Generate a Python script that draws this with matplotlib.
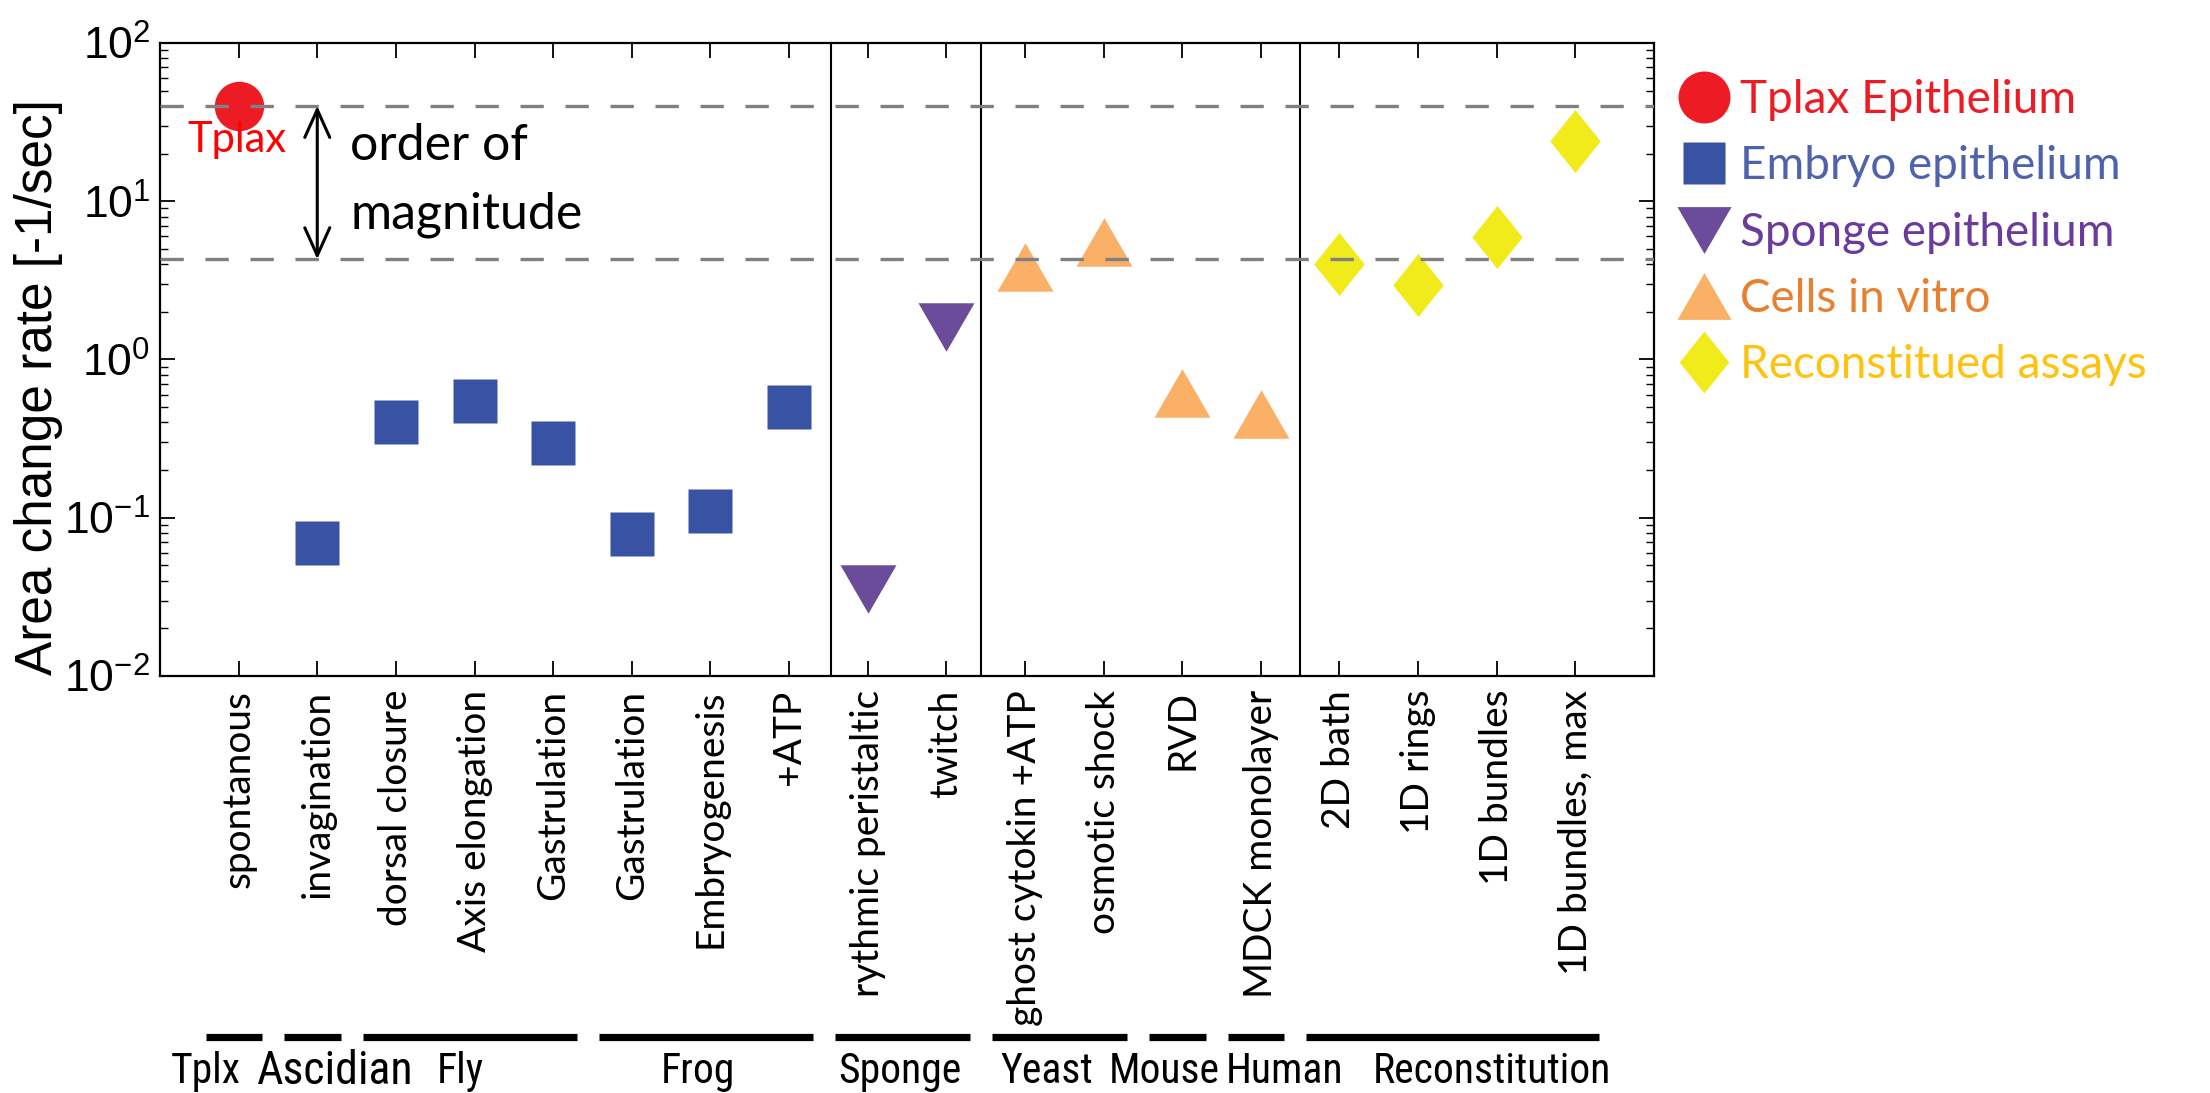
import numpy as np
import matplotlib.pyplot as plt
from matplotlib.lines import Line2D
import matplotlib.transforms as mtransforms

plt.rcParams['font.family'] = 'Liberation Sans'
plt.rcParams['mathtext.fontset'] = 'custom'
plt.rcParams['mathtext.rm'] = 'Roboto Condensed'
plt.rcParams['mathtext.it'] = 'Roboto Condensed'
plt.rcParams['mathtext.default'] = 'rm'

# measured rates per condition, grouped by sample type
conditions = ["spontanous", "invagination", "dorsal closure", "Axis elongation",
              "Gastrulation", "Gastrulation", "Embryogenesis", "+ATP",
              "rythmic peristaltic", "twitch",
              "ghost cytokin +ATP", "osmotic shock", "RVD", "MDCK monolayer",
              "2D bath", "1D rings", "1D bundles", "1D bundles, max"]
tplax_rate = [40]
embryo_rate = [0.069, 0.405, 0.547, 0.298, 0.079, 0.111, 0.50]
sponge_rate = [0.0355, 1.6]
cells_rate = [3.83, 5.55, 0.61, 0.45]
recon_rate = [4.02, 2.97, 5.95, 24]

organisms = ["Tplx", "Ascidian", "Fly", "Frog", "Sponge", "Yeast", "Mouse", "Human", "Reconstitution"]
organism_first = [1, 2, 3, 6, 9, 11, 13, 14, 15]
organism_last = [1, 2, 5, 8, 10, 12, 13, 14, 18]
organism_label_x = [0.58, 2.23, 3.82, 6.84, 9.41, 11.28, 12.77, 14.30, 16.94]

band_top = 40
band_bottom = 4.3
separators = [8.53, 10.44, 14.5]

c_red = '#ED1C24'
c_blue = '#3953A4'
c_purple = '#6B4C9A'
c_orange = '#FBB068'
c_yellow = '#F2EB1C'

tri_up = [(-1, -0.866), (1, -0.866), (0, 0.866), (-1, -0.866)]
tri_down = [(-1, 0.866), (1, 0.866), (0, -0.866), (-1, 0.866)]
diamond = [(0, 1), (0.8, 0), (0, -1), (-0.8, 0), (0, 1)]

fig = plt.figure(figsize=(22.1, 10.93), dpi=100)
ax = fig.add_axes([0.0724, 0.3815, 0.6760, 0.5792])

x = np.arange(1, len(conditions) + 1)
n1 = len(tplax_rate)
n2 = n1 + len(embryo_rate)
n3 = n2 + len(sponge_rate)
n4 = n3 + len(cells_rate)

ax.plot(x[:n1], tplax_rate, ls='none', marker='o', ms=35.6, mfc=c_red, mec='none', zorder=3)
ax.plot(x[n1:n2], embryo_rate, ls='none', marker='s', ms=32, mfc=c_blue, mec='none', zorder=3)
ax.plot(x[n2:n3], sponge_rate, ls='none', marker=tri_down, ms=40.3, mfc=c_purple, mec='none', zorder=3)
ax.plot(x[n3:n4], cells_rate, ls='none', marker=tri_up, ms=40.3, mfc=c_orange, mec='none', zorder=3)
ax.plot(x[n4:], recon_rate, ls='none', marker=diamond, ms=45.4, mfc=c_yellow, mec='none', zorder=3)

# one-decade band, drawn over the markers
for yv in (band_top, band_bottom):
    ax.axhline(yv, color='#808080', lw=2.4, ls=(0, (7, 6.5)), zorder=4)
for xv in separators:
    ax.axvline(xv, color='black', lw=1.5, zorder=2)

ax.annotate('', xy=(2, band_bottom), xytext=(2, band_top),
            arrowprops=dict(arrowstyle='<->,head_length=1.0,head_width=0.45',
                            lw=2.2, color='black', mutation_scale=20,
                            shrinkA=0, shrinkB=0), zorder=5)
ax.text(2.42, 22.3, 'order of', family='Lato', fontsize=36, va='center', ha='left')
ax.text(2.42, 8.17, 'magnitude', family='Lato', fontsize=36, va='center', ha='left')
ax.text(0.98, 24.5, 'Tplax', family='Lato', fontsize=30, color='#FF0000', va='center', ha='center')

ax.set_yscale('log')
ax.set_ylim(1e-2, 1e2)
ax.set_xlim(0, 19)
ax.set_xticks(x)
ax.set_xticklabels(conditions, rotation=90, family='Lato', fontsize=28)
ax.tick_params(axis='x', which='major', direction='in', length=11, width=1.3,
               top=True, pad=10)
ax.tick_params(axis='y', which='major', direction='in', length=11, width=1.3,
               right=True, labelsize=32, pad=7)
ax.tick_params(axis='y', which='minor', direction='in', length=5.5, width=1.0, right=True)
for s in ax.spines.values():
    s.set_linewidth(1.6)
ax.set_ylabel('Area change rate [-1/sec]', fontsize=37)
ax.yaxis.set_label_coords(-0.065, 0.456)

# organism bars and names underneath the condition labels
trans = mtransforms.blended_transform_factory(ax.transData, ax.transAxes)
for name, first, last, lx in zip(organisms, organism_first, organism_last, organism_label_x):
    ax.plot([first - 0.42, last + 0.3], [-0.5695, -0.5695], color='black', lw=5.2,
            solid_capstyle='butt', transform=trans, clip_on=False)
    ax.text(lx, -0.624, name, transform=trans, ha='center', va='center',
            family='Roboto Condensed', fontsize=33 if name == 'Ascidian' else 30)

handles = [
    Line2D([], [], ls='none', marker='o', ms=37.4, mfc=c_red, mec='none'),
    Line2D([], [], ls='none', marker='s', ms=30, mfc=c_blue, mec='none'),
    Line2D([], [], ls='none', marker=tri_down, ms=38.9, mfc=c_purple, mec='none'),
    Line2D([], [], ls='none', marker=tri_up, ms=38.9, mfc=c_orange, mec='none'),
    Line2D([], [], ls='none', marker=diamond, ms=44.6, mfc=c_yellow, mec='none'),
]
labels = ['Tplax Epithelium', 'Embryo epithelium', 'Sponge epithelium',
          'Cells in vitro', 'Reconstitued assays']
ax.legend(handles, labels, loc='upper left', bbox_to_anchor=(0.7638, 0.9277),
          bbox_transform=fig.transFigure, frameon=False, borderpad=0,
          prop={'family': 'Lato', 'size': 33}, handlelength=0.7, handletextpad=0.44,
          labelspacing=0.53, borderaxespad=0,
          labelcolor=[c_red, '#4F62AE', '#6A3A9C', '#E8812F', '#FFC20E'])

fig.savefig('out.png', dpi=100)
